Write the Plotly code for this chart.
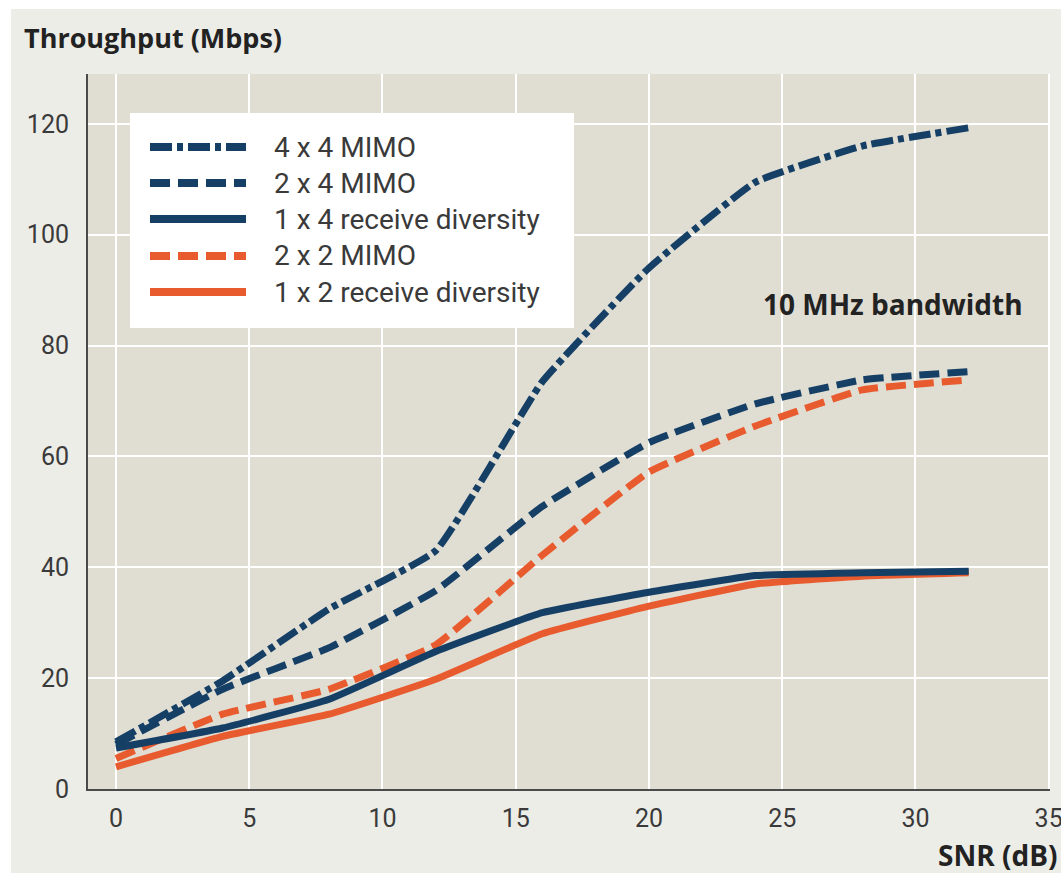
import plotly.graph_objects as go

# SNR sample points (dB)
snr = [0, 4, 8, 12, 16, 20, 24, 28, 32]

# Throughput (Mbps) per antenna configuration
mimo_4x4 = [8.5, 19.5, 32.5, 43.0, 73.5, 94.0, 109.5, 116.0, 119.3]
mimo_2x4 = [8.0, 18.0, 25.5, 35.8, 51.0, 62.5, 69.5, 73.8, 75.3]
rx_div_1x4 = [7.4, 11.0, 16.2, 24.8, 31.8, 35.5, 38.5, 39.0, 39.3]
mimo_2x2 = [5.5, 13.5, 18.0, 26.0, 42.2, 57.2, 65.5, 72.0, 73.8]
rx_div_1x2 = [4.0, 9.5, 13.5, 19.8, 28.0, 33.0, 37.0, 38.4, 39.0]

x_ticks = [0, 5, 10, 15, 20, 25, 30, 35]
y_ticks = [0, 20, 40, 60, 80, 100, 120]

NAVY = "#163f66"
ORANGE = "#e85b2e"
FONT = "Roboto"
BOLD_FONT = "Open Sans"
TEXT = "#3a3a3a"
DARK = "#222222"

DASHDOT = "22px,5px,6px,5px"
DASH = "20px,8px"

# series drawn back to front: orange under navy
series = [
    ("2 x 2 MIMO", mimo_2x2, ORANGE, DASH),
    ("1 x 2 receive diversity", rx_div_1x2, ORANGE, "solid"),
    ("2 x 4 MIMO", mimo_2x4, NAVY, DASH),
    ("1 x 4 receive diversity", rx_div_1x4, NAVY, "solid"),
    ("4 x 4 MIMO", mimo_4x4, NAVY, DASHDOT),
]
legend_order = ["4 x 4 MIMO", "2 x 4 MIMO", "1 x 4 receive diversity",
                "2 x 2 MIMO", "1 x 2 receive diversity"]
style = {name: (color, dash) for name, _, color, dash in series}

fig = go.Figure()
for name, vals, color, dash in series:
    fig.add_trace(go.Scatter(
        x=snr, y=vals, mode="lines", name=name, showlegend=False,
        line=dict(color=color, width=7, dash=dash, shape="spline", smoothing=0.35),
    ))

W, H = 1061, 873
L, R, T, B = 88, 1050, 74, 789


def xp(px):
    return (px - L) / (R - L)


def yp(py):
    return (B - py) / (B - T)


shapes = [
    # white frame strips around the grey panel
    dict(type="rect", xref="paper", yref="paper", x0=xp(0), x1=xp(11), y0=yp(H), y1=yp(0),
         fillcolor="white", line_width=0, layer="below"),
    dict(type="rect", xref="paper", yref="paper", x0=xp(0), x1=xp(W), y0=yp(9), y1=yp(0),
         fillcolor="white", line_width=0, layer="below"),
    # legend box
    dict(type="rect", xref="paper", yref="paper", x0=xp(130), x1=xp(574), y0=yp(328), y1=yp(113),
         fillcolor="white", line_width=0, layer="above"),
]
annotations = []
row_y = [147, 183, 219, 256, 292]
for name, py in zip(legend_order, row_y):
    color, dash = style[name]
    shapes.append(dict(type="line", xref="paper", yref="paper", x0=xp(150), x1=xp(246),
                       y0=yp(py), y1=yp(py), line=dict(color=color, width=8, dash=dash),
                       layer="above"))
    annotations.append(dict(xref="paper", yref="paper", x=xp(272), y=yp(py), text=name,
                            showarrow=False, xanchor="left", yanchor="middle",
                            font=dict(family=FONT, size=28, color=TEXT)))

annotations += [
    dict(xref="paper", yref="paper", x=xp(22), y=yp(37), text="<b>Throughput (Mbps)</b>",
         showarrow=False, xanchor="left", yanchor="middle",
         font=dict(family=BOLD_FONT, size=27, color=DARK)),
    dict(xref="paper", yref="paper", x=xp(1059), y=yp(855), text="<b>SNR (dB)</b>",
         showarrow=False, xanchor="right", yanchor="middle",
         font=dict(family=BOLD_FONT, size=28, color=DARK)),
    dict(xref="x", yref="y", x=29.15, y=87.5, text="<b>10 MHz bandwidth</b>",
         showarrow=False, xanchor="center", yanchor="middle",
         font=dict(family=BOLD_FONT, size=28, color=DARK)),
]

fig.update_layout(
    width=W, height=H,
    margin=dict(l=L, r=W - R, t=T, b=H - B, pad=0, autoexpand=False),
    paper_bgcolor="#edede8",
    plot_bgcolor="#e0ddd3",
    shapes=shapes,
    annotations=annotations,
    showlegend=False,
    font=dict(family=FONT, size=25, color=TEXT),
)
fig.update_xaxes(
    range=[-1.05, 35.05], tickvals=x_ticks, showgrid=True, gridcolor="white", gridwidth=2,
    zeroline=False, showline=True, linecolor="#4a4a4a", linewidth=2, ticks="",
    ticklabelstandoff=6, ticklabeloverflow="allow", automargin=False,
    tickfont=dict(family=FONT, size=25, color=TEXT),
)
fig.update_yaxes(
    range=[0, 129], tickvals=y_ticks, showgrid=True, gridcolor="white", gridwidth=2,
    zeroline=False, showline=True, linecolor="#4a4a4a", linewidth=2, ticks="",
    ticklabelstandoff=12, automargin=False,
    tickfont=dict(family=FONT, size=25, color=TEXT),
)

fig.write_html("out.html")
